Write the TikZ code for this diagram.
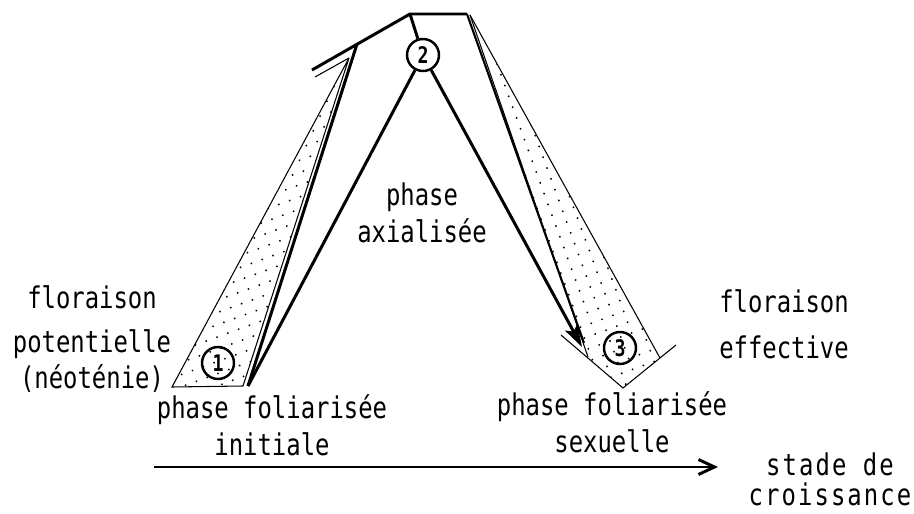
\documentclass[tikz,border=0pt]{standalone}
\usepackage{fontspec}
\setmainfont{DejaVu Sans Mono}[FakeStretch=0.8]
\usetikzlibrary{arrows.meta,patterns.meta}

\begin{document}
\begin{tikzpicture}[
    x=0.02cm, y=-0.02cm,
    font=\fontsize{17}{21}\selectfont,
    txt/.style={align=center, inner sep=0pt, anchor=base},
    phasenum/.style={draw, circle, line width=1.4pt, minimum size=0.64cm, inner sep=0pt, font=\fontsize{13}{13}\selectfont\bfseries},
    heavy/.style={line width=1.7pt},
    light/.style={line width=0.6pt},
    stipple/.style={pattern={Dots[distance=2.3mm, radius=0.6pt, angle=20]}},
    arrow/.style={-{Stealth[length=4.5mm, width=2.8mm, inset=1mm]}, heavy}
]
\useasboundingbox (0,0) rectangle (914,514);

% points of the outline
\coordinate (top l) at (410,14);
\coordinate (top r) at (467,14);
\coordinate (l apex) at (349,58);
\coordinate (l base w) at (172,387);
\coordinate (l base e) at (243,386);
\coordinate (l foot) at (248,386);
\coordinate (l bend) at (312,70);
\coordinate (l barb) at (315,77);
\coordinate (l stem) at (357,44);
\coordinate (r apex) at (470,15);
\coordinate (r stem) at (584,343);
\coordinate (r in) at (588,357);
\coordinate (r out) at (660,358);
\coordinate (r v) at (623,388);
\coordinate (r v w) at (561,335);
\coordinate (r v e) at (676,345);
\coordinate (ax tip) at (582,347);
\coordinate (t0) at (154,467);
\coordinate (t1) at (718,467);

% stippled wedges
\fill[stipple] (l base w) -- (l apex) -- (l base e) -- cycle;
\fill[stipple] (r apex) -- (r out) -- (r v) -- (r in) -- cycle;

\node[phasenum] (c1) at (218,363) {1};
\node[phasenum] (c2) at (423,55) {2};
\node[phasenum] (c3) at (620,348) {3};

% left wedge
\draw[light] (l base e) -- (l base w) -- (l apex) -- (l base e);
\draw[light] (l barb) -- (l apex);
\draw[heavy] (l foot) -- (l stem);
\draw[heavy] (l bend) -- (top l) -- (top r);

% right wedge
\draw[line width=1.2pt] (top r) -- (r stem);
\draw[light] (r apex) -- (r in);
\draw[light] (r apex) -- (r out);
\draw[light] (r v w) -- (r v) -- (r v e);

% axialised phase
\draw[heavy] (top l) -- (c2);
\draw[heavy] (l foot) -- (c2);
\draw[arrow] (c2) -- (ax tip);

% growth axis
\draw[heavy, -{Straight Barb[length=3.2mm, width=3mm]}] (t0) -- (t1);

\node[txt] (flo pot) at (92,388) {floraison\\[4.5pt]potentielle\\[-1pt](néoténie)};
\node[txt] (flo eff) at (784,358) {floraison\\[5pt]effective};
\node[txt] (ph ax) at (422,242) {phase\\axialisée};
\node[txt] (ph init) at (272,455) {phase foliarisée\\initiale};
\node[txt] (ph sex) at (612,452) {phase foliarisée\\sexuelle};
\node[txt, font=\fontsize{17}{21}\selectfont\addfontfeature{LetterSpace=7}] (stade) at (830,505) {stade de\\[-4pt]croissance};
\end{tikzpicture}
\end{document}
